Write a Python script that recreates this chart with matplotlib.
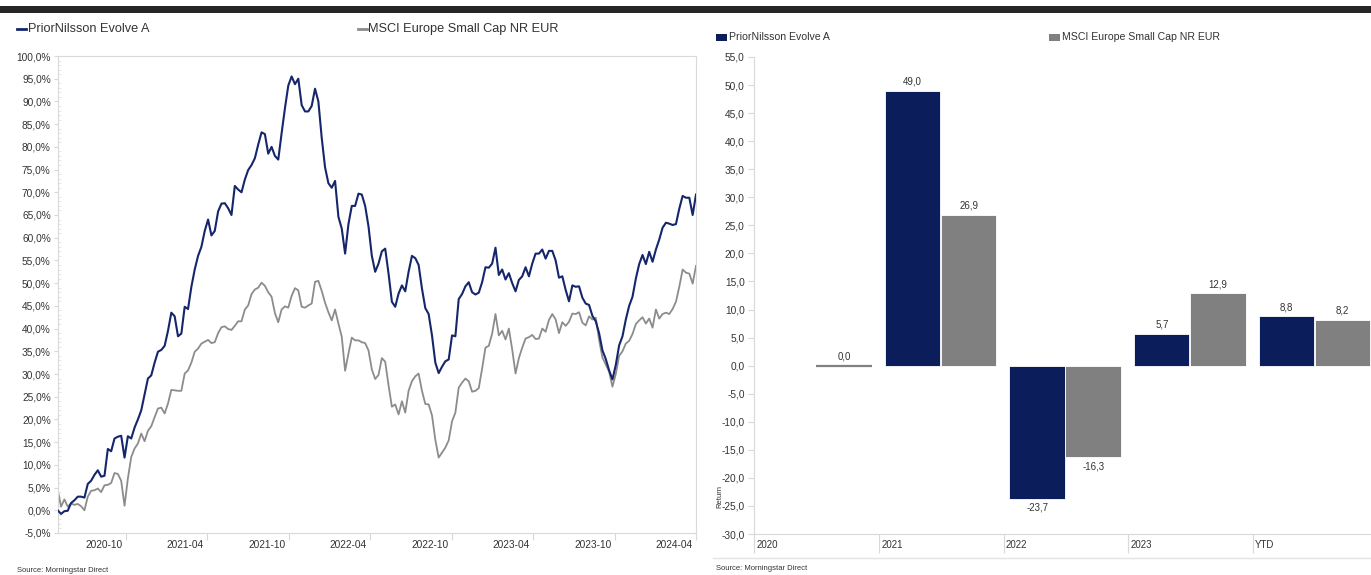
import matplotlib
matplotlib.use("Agg")
import matplotlib.pyplot as plt
import matplotlib.transforms as mtransforms
from matplotlib.patches import Rectangle
from matplotlib.lines import Line2D
from matplotlib.ticker import MultipleLocator, FuncFormatter, FixedLocator
import numpy as np
import pandas as pd

plt.rcParams['font.family'] = ['Liberation Sans', 'DejaVu Sans']

# ---------------- data ----------------
series_names = ["PriorNilsson Evolve A", "MSCI Europe Small Cap NR EUR"]
start_date = "2020-05-31"
end_date = "2024-04-30"

fund_cum = [
    0.0, -0.8, -0.2, -0.1, 1.6, 2.2, 3.0, 3.0, 2.8, 5.8,
    6.5, 7.8, 8.8, 7.4, 7.6, 13.5, 13.0, 15.8, 16.2, 16.4,
    11.6, 16.3, 15.8, 18.2, 20.0, 22.0, 25.5, 29.0, 29.7, 32.5,
    34.9, 35.3, 36.2, 39.5, 43.5, 42.7, 38.3, 38.9, 44.8, 44.3,
    49.2, 53.0, 56.0, 58.0, 61.5, 64.0, 60.5, 61.5, 65.8,
    67.5, 67.6, 66.5, 65.0, 71.4, 70.6, 70.0, 72.8, 74.9,
    76.0, 77.5, 80.5, 83.2, 82.8, 78.5, 80.0, 78.0, 77.2, 83.0,
    88.5, 93.5, 95.5, 93.8, 95.0, 89.2, 87.8, 87.8, 89.0, 92.8,
    90.0, 82.0, 75.5, 72.0, 71.0, 72.5, 64.6, 62.0, 56.5, 63.0,
    67.0, 67.0, 69.7, 69.5, 67.0, 62.5, 56.0, 52.5,
    54.3, 57.0, 57.6, 52.1, 45.9, 44.8, 47.7, 49.5, 48.2, 52.5,
    56.0, 55.5, 54.0, 48.8, 44.5, 43.2, 38.5, 32.5, 30.2, 31.6,
    32.8, 33.2, 38.5, 38.3, 46.5, 47.6, 49.3, 50.2, 48.0, 47.5,
    47.9, 50.2, 53.5, 53.4, 54.3, 57.8, 51.8, 53.0, 50.8, 52.2,
    50.0, 48.2, 50.7, 51.5, 53.5, 51.5, 54.3, 56.5, 56.5,
    57.4, 55.4, 57.1, 57.1, 55.0, 51.2, 51.5, 48.5, 46.0,
    49.5, 49.2, 49.3, 46.8, 45.5, 45.2, 42.8, 41.6, 39.0, 35.2,
    33.3, 30.8, 28.8, 32.0, 36.3, 38.3, 42.0, 45.0, 47.0, 51.0,
    54.2, 56.2, 54.2, 56.9, 54.7, 57.4, 59.6, 62.2, 63.3, 63.1,
    62.8, 63.0, 66.4, 69.2, 68.8, 68.8, 65.0, 69.5,
]

index_cum = [
    4.5, 0.8, 2.4, 0.8, 1.5, 1.2, 1.4, 0.9, 0.0, 3.0,
    4.3, 4.4, 4.8, 4.0, 5.5, 5.6, 6.0, 8.2, 8.0, 6.5,
    1.0, 7.0, 11.7, 13.6, 14.7, 16.9, 15.2, 17.5, 18.5, 20.5,
    22.4, 22.6, 21.3, 23.5, 26.5, 26.4, 26.3, 26.3, 30.1, 30.8,
    32.5, 34.9, 35.6, 36.7, 37.1, 37.5, 36.8, 37.0, 39.0,
    40.3, 40.5, 39.9, 39.7, 40.6, 41.6, 41.6, 44.2, 45.1,
    47.6, 48.6, 49.0, 50.1, 49.4, 48.0, 47.0, 43.4, 41.4, 44.2,
    44.9, 44.6, 47.2, 48.9, 48.4, 44.8, 44.6, 45.1, 45.5, 50.3,
    50.5, 48.3, 45.7, 43.6, 41.8, 44.2, 41.1, 38.2, 30.7, 34.5,
    38.0, 37.4, 37.4, 37.0, 36.8, 35.2, 31.0, 28.9,
    29.8, 33.5, 32.7, 27.5, 22.8, 23.3, 21.1, 24.0, 21.5, 26.3,
    28.4, 29.5, 30.1, 26.3, 23.4, 23.3, 20.9, 15.5, 11.6, 12.7,
    13.8, 15.4, 19.6, 21.5, 27.0, 28.1, 29.0, 28.4, 26.1, 26.3,
    26.9, 31.2, 35.8, 36.2, 38.9, 43.2, 38.5, 39.5, 37.6, 40.0,
    35.4, 30.1, 33.5, 35.8, 37.8, 38.1, 38.6, 37.7, 37.8,
    40.0, 39.3, 41.9, 43.2, 42.0, 39.0, 41.4, 40.6, 41.5,
    43.3, 43.2, 43.6, 41.3, 40.7, 42.7, 42.0, 42.4, 37.5, 33.6,
    32.1, 30.5, 27.2, 30.0, 34.0, 35.0, 36.7, 37.3, 38.8, 41.0,
    41.8, 42.5, 41.1, 42.2, 40.2, 44.2, 42.2, 43.2, 43.5, 43.2,
    44.3, 45.9, 49.2, 53.0, 52.3, 52.1, 49.9, 53.8,
]

x_tick_dates = ["2020-10-31", "2021-04-30", "2021-10-31", "2022-04-30",
                "2022-10-31", "2023-04-30", "2023-10-31", "2024-04-30"]
x_tick_labels = ["2020-10", "2021-04", "2021-10", "2022-04",
                 "2022-10", "2023-04", "2023-10", "2024-04"]

bar_categories = ["2020", "2021", "2022", "2023", "YTD"]
fund_returns = [np.nan, 49.0, -23.7, 5.7, 8.8]
index_returns = [0.0, 26.9, -16.3, 12.9, 8.2]

# ---------------- style ----------------
W, H = 1371, 575
NAVY_LINE = "#15266b"
GREY_LINE = "#8c8c8c"
NAVY_BAR = "#0b1e5b"
GREY_BAR = "#808080"
FRAME = "#d9d9d9"
TXT = "#333333"

fig = plt.figure(figsize=(W / 100, H / 100), dpi=100)
fig.patch.set_facecolor("white")


def fx(px):
    return px / W


def fy(py):
    return 1 - py / H


def comma(v, dec=1):
    return f"{v:.{dec}f}".replace(".", ",")


# top dark band
fig.add_artist(Rectangle((0, fy(13)), 1, 7 / H, transform=fig.transFigure,
                         facecolor="#262626", edgecolor="none"))

# ---------------- left: cumulative line chart ----------------
dates = pd.date_range(start_date, end_date, periods=len(fund_cum))
ax1 = fig.add_axes([fx(57.7), fy(533), fx(696 - 57.7), (533 - 56) / H])
ax1.plot(dates, index_cum, color=GREY_LINE, lw=1.3, zorder=2)
ax1.plot(dates, fund_cum, color=NAVY_LINE, lw=1.5, zorder=3)
ax1.set_xlim(dates[0], dates[-1])
ax1.set_ylim(-5, 100)
ax1.yaxis.set_major_locator(MultipleLocator(5))
ax1.yaxis.set_minor_locator(MultipleLocator(1))
ax1.yaxis.set_major_formatter(FuncFormatter(lambda v, p: comma(v) + "%"))
ax1.tick_params(axis="y", which="major", direction="out", length=3, width=0.8,
                color=FRAME, labelsize=7.3, labelcolor=TXT, pad=2)
ax1.tick_params(axis="y", which="minor", direction="in", length=2, width=0.6,
                color="#e3e3e3")
tick_ts = pd.to_datetime(x_tick_dates)
ax1.set_xticks(tick_ts)
ax1.set_xticklabels([""] * len(tick_ts))
ax1.tick_params(axis="x", which="major", direction="out", length=5, width=0.8,
                color=FRAME)
for s in ax1.spines.values():
    s.set_color(FRAME)
    s.set_linewidth(0.8)
trans1 = mtransforms.blended_transform_factory(ax1.transData, ax1.transAxes) + \
    mtransforms.ScaledTranslation(-0.03, -0.12, fig.dpi_scale_trans)
for d, lab in zip(tick_ts, x_tick_labels):
    ax1.text(d, 0, lab, transform=trans1, ha="right", va="center",
             fontsize=7.3, color=TXT)

# left legend
fig.add_artist(Line2D([fx(17), fx(26)], [fy(29), fy(29)], color=NAVY_LINE, lw=2))
fig.text(fx(27.5), fy(29), series_names[0], fontsize=9.2, color=TXT, va="center")
fig.add_artist(Line2D([fx(358), fx(367)], [fy(29), fy(29)], color=GREY_LINE, lw=2))
fig.text(fx(368.5), fy(29), series_names[1], fontsize=9.2, color=TXT, va="center")
fig.text(fx(17), fy(571), "Source: Morningstar Direct", fontsize=5.5,
         color=TXT, va="center")

# ---------------- right: calendar-year bars ----------------
cat_w = 124.6
ax2 = fig.add_axes([fx(754.3), fy(534), fx(1371 - 754.3), (534 - 57) / H])
xpos = np.arange(len(bar_categories))
bw = 0.445
fund_arr = np.array(fund_returns, dtype=float)
idx_arr = np.array(index_returns, dtype=float)
valid = ~np.isnan(fund_arr)
ax2.bar(xpos[valid] + 0.27, fund_arr[valid], width=bw, color=NAVY_BAR,
        edgecolor="white", linewidth=0.6, zorder=3)
edge_cols = [GREY_BAR if v == 0 else "white" for v in idx_arr]
edge_w = [1.6 if v == 0 else 0.6 for v in idx_arr]
ax2.bar(xpos + 0.72, idx_arr, width=bw, color=GREY_BAR,
        edgecolor=edge_cols, linewidth=edge_w, zorder=3)

for xs, vals in ((xpos + 0.27, fund_arr), (xpos + 0.72, idx_arr)):
    for xv, v in zip(xs, vals):
        if np.isnan(v):
            continue
        off = 3 if v >= 0 else -3
        ax2.annotate(comma(v), (xv, v), xytext=(0, off), textcoords="offset points",
                     ha="center", va="bottom" if v >= 0 else "top",
                     fontsize=7, color=TXT, zorder=4)

ax2.set_xlim(0, (1371 - 754.3) / cat_w)
ax2.set_ylim(-30, 55)
ax2.yaxis.set_major_locator(MultipleLocator(5))
ax2.yaxis.set_major_formatter(FuncFormatter(lambda v, p: comma(v)))
ax2.tick_params(axis="y", direction="out", length=4, width=0.8, color=FRAME,
                labelsize=7.3, labelcolor=TXT, pad=3)
ax2.set_xticks(xpos)
ax2.set_xticklabels([""] * len(xpos))
ax2.tick_params(axis="x", direction="out", length=14, width=0.8, color=FRAME)
ax2.spines["top"].set_visible(False)
ax2.spines["right"].set_visible(False)
ax2.spines["left"].set_color(FRAME)
ax2.spines["bottom"].set_color(FRAME)
ax2.spines["left"].set_linewidth(0.8)
ax2.spines["bottom"].set_linewidth(0.8)
trans2 = mtransforms.blended_transform_factory(ax2.transData, ax2.transAxes) + \
    mtransforms.ScaledTranslation(0.025, -0.115, fig.dpi_scale_trans)
for xv, lab in zip(xpos, bar_categories):
    ax2.text(xv, 0, lab, transform=trans2, ha="left", va="center",
             fontsize=7, color=TXT)

fig.text(fx(720), fy(497), "Return", rotation=90, fontsize=5.5, color=TXT,
         ha="center", va="center")
fig.add_artist(Line2D([fx(713), 1], [fy(558), fy(558)], color="#e3e3e3", lw=1))

# right legend
fig.add_artist(Rectangle((fx(716), fy(41)), 11 / W, 7 / H, transform=fig.transFigure,
                         facecolor=NAVY_BAR, edgecolor="none"))
fig.text(fx(728.5), fy(37.5), series_names[0], fontsize=7.6, color=TXT, va="center")
fig.add_artist(Rectangle((fx(1049), fy(41)), 11 / W, 7 / H, transform=fig.transFigure,
                         facecolor=GREY_BAR, edgecolor="none"))
fig.text(fx(1061.5), fy(37.5), series_names[1], fontsize=7.6, color=TXT, va="center")
fig.text(fx(716), fy(568), "Source: Morningstar Direct", fontsize=5.5,
         color=TXT, va="center")

fig.savefig("out.png", dpi=100, facecolor="white")
